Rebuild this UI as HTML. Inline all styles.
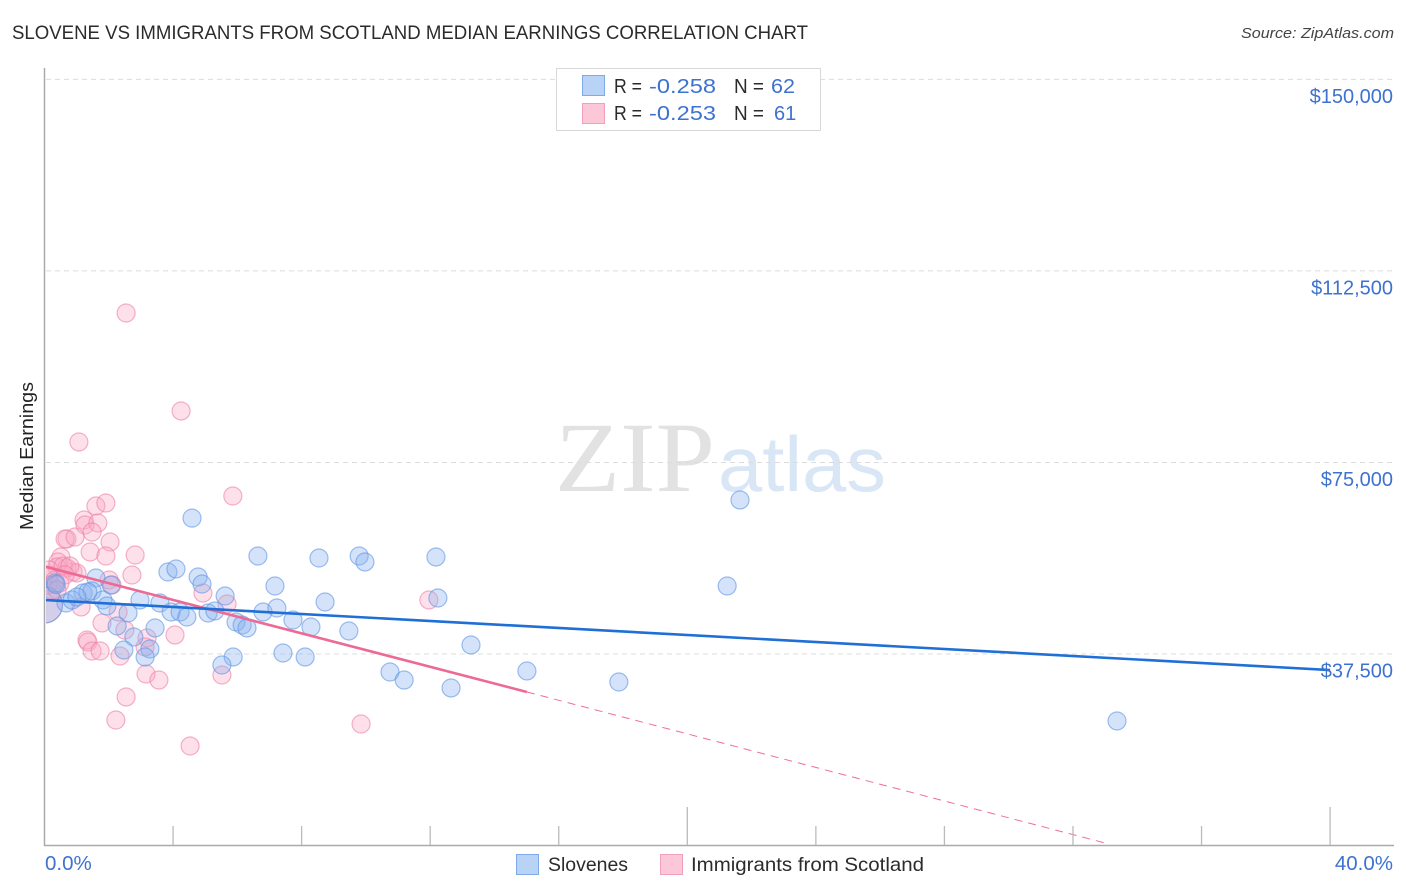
<!DOCTYPE html>
<html lang="en">
<head>
<meta charset="utf-8">
<title>Slovene vs Immigrants from Scotland Median Earnings Correlation Chart</title>
<style>
html,body{margin:0;padding:0;background:#fff;width:1406px;height:892px;overflow:hidden}
svg{display:block;font-family:"Liberation Sans",sans-serif}
</style>
</head>
<body>
<svg id="chart" xmlns="http://www.w3.org/2000/svg" width="1406" height="892" viewBox="0 0 1406 892">
  <defs><clipPath id="plot-clip"><rect x="46" y="68" width="1348" height="777"/></clipPath></defs>
  <text x="12" y="39" font-size="19" fill="#2b2b2b" textLength="796" lengthAdjust="spacingAndGlyphs">SLOVENE VS IMMIGRANTS FROM SCOTLAND MEDIAN EARNINGS CORRELATION CHART</text>
  <text x="1241" y="38" font-size="15" font-style="italic" fill="#444" textLength="153" lengthAdjust="spacingAndGlyphs">Source: ZipAtlas.com</text>
  <g>
    <text x="555" y="491" font-size="100" font-family="'Liberation Serif',serif" fill="#e2e2e2" textLength="160" lengthAdjust="spacingAndGlyphs">ZIP</text>
    <text x="718" y="491" font-size="78" fill="#d8e6f6" textLength="168" lengthAdjust="spacingAndGlyphs">atlas</text>
  </g>
  <g id="grid"></g>
  <g id="pink-points" clip-path="url(#plot-clip)"></g>
  <g id="blue-points" clip-path="url(#plot-clip)"></g>
  <g id="trends" clip-path="url(#plot-clip)"></g>
  <g id="axes"></g>
  <text transform="translate(33,456) rotate(-90)" text-anchor="middle" font-size="18" fill="#222" textLength="148" lengthAdjust="spacingAndGlyphs">Median Earnings</text>
  <g>
    <rect x="556.5" y="68.5" width="264" height="62" fill="#fff" fill-opacity="0.95" stroke="#d8d8d8"/>
    <rect x="582.5" y="75.5" width="22" height="20" fill="#b9d3f6" stroke="#7eaae8"/>
    <rect x="582.5" y="103.5" width="22" height="20" fill="#fcc8d8" stroke="#f0a0bc"/>
    <g font-size="20">
      <text x="614" y="93" fill="#2b2b2b" textLength="28" lengthAdjust="spacingAndGlyphs">R =</text>
      <text x="649" y="93" fill="#3d72d0" textLength="67" lengthAdjust="spacingAndGlyphs">-0.258</text>
      <text x="734" y="93" fill="#2b2b2b" textLength="30" lengthAdjust="spacingAndGlyphs">N =</text>
      <text x="771" y="93" fill="#3d72d0" textLength="24" lengthAdjust="spacingAndGlyphs">62</text>
      <text x="614" y="120" fill="#2b2b2b" textLength="28" lengthAdjust="spacingAndGlyphs">R =</text>
      <text x="649" y="120" fill="#3d72d0" textLength="67" lengthAdjust="spacingAndGlyphs">-0.253</text>
      <text x="734" y="120" fill="#2b2b2b" textLength="30" lengthAdjust="spacingAndGlyphs">N =</text>
      <text x="774" y="120" fill="#3d72d0">61</text>
    </g>
  </g>
  <g>
    <rect x="516.5" y="854.5" width="22" height="20" fill="#b9d3f6" stroke="#7eaae8"/>
    <text x="548" y="871" font-size="19.5" fill="#2b2b2b" textLength="80" lengthAdjust="spacingAndGlyphs">Slovenes</text>
    <rect x="660.5" y="854.5" width="22" height="20" fill="#fcc8d8" stroke="#f0a0bc"/>
    <text x="691" y="871" font-size="19.5" fill="#2b2b2b" textLength="233" lengthAdjust="spacingAndGlyphs">Immigrants from Scotland</text>
  </g>
</svg>
<script>
const yTickValues = [150000, 112500, 75000, 37500];
const yTickLabels = ["$150,000", "$112,500", "$75,000", "$37,500"];
const xTickValues = [0, 4, 8, 12, 16, 20, 24, 28, 32, 36, 40];
const xEdgeLabels = ["0.0%", "40.0%"];

const sloveneX = [4.59,6.64,3.84,4.09,4.78,4.90,5.62,7.17,1.60,1.20,1.48,1.35,0.67,0.86,1.01,1.82,1.94,2.60,2.97,3.59,3.94,4.22,4.43,5.09,5.30,5.96,6.15,6.30,6.80,7.23,3.44,2.26,2.78,3.28,3.13,2.47,5.87,5.52,7.42,7.73,8.11,8.29,8.54,8.73,9.47,9.79,9.97,10.75,11.19,12.18,12.24,12.65,13.27,15.01,17.87,21.24,21.64,33.37,2.07,0.33,0.36];
const sloveneY = [64100,56680,53550,54140,52570,51200,48850,50810,52380,49440,49830,49640,47480,48070,48660,48070,46890,45520,48070,47480,45720,45720,44740,45520,45920,43760,43170,42590,45720,46500,42590,42980,40820,38470,36910,38280,36910,35340,37690,44150,36910,42780,56290,47680,42000,56680,55510,33970,32400,56490,48460,30840,39260,34170,32010,50810,67650,24380,51010,51400,51100];
const sloveneLargeSampleX = [0];
const sloveneLargeSampleY = [47090];

const scotlandX = [5.86,1.60,1.91,1.23,1.26,1.66,1.48,0.70,0.64,0.95,2.04,1.42,1.91,2.82,2.72,0.51,0.42,0.39,0.70,0.89,1.01,2.01,2.10,1.14,1.79,2.29,2.50,1.32,1.35,1.48,1.73,2.35,3.19,3.13,4.06,4.93,5.68,3.16,3.56,5.52,2.54,4.25,1.07,2.22,2.54,4.53,9.85,11.96,0.17,0.14,0.23,0.11,0.33,0.48,0.39,0.58,0.79,0.64];
const scotlandY = [68430,66470,67060,63730,62750,63150,61380,60010,60010,60400,59430,57470,56680,56880,52960,56490,55510,54530,54330,53550,53360,51990,51010,46700,43570,45720,42190,40240,39850,38080,38080,37100,40630,38870,41220,49440,47290,33580,32400,33380,104260,85080,79010,24570,29080,19480,23790,48070,52960,53940,50030,51000,51990,51400,50030,54730,54730,52960];
const scotlandLargeSampleX = [0];
const scotlandLargeSampleY = [47090];

const sloveneTrendX = [0, 40];
const sloveneTrendY = [48070, 34360];
const scotlandTrendX = [0, 15.01];
const scotlandTrendY = [54630, 30060];
const scotlandProjectionX = [15.01, 33.0];
const scotlandProjectionY = [30060, 490];

const NS = "http://www.w3.org/2000/svg";
function xAxis(v) { return 44.5 + v * 32.14; }
function yAxis(v) { return 845.5 - v / 195.8; }
function make(tag, attrs, parent) {
  const el = document.createElementNS(NS, tag);
  for (const k in attrs) el.setAttribute(k, attrs[k]);
  parent.appendChild(el);
  return el;
}

const grid = document.getElementById("grid");
const axes = document.getElementById("axes");
yTickValues.forEach(function (v, i) {
  const line = make("line", { x1: 46, x2: 1394, y1: yAxis(v), y2: yAxis(v), stroke: "#dcdcdc", "stroke-dasharray": "5 4" }, grid);
  
  
  const label = make("text", { x: 1393, y: yAxis(v) + 23.5, "text-anchor": "end", "font-size": 20, fill: "#3d72d0" }, axes);
  label.textContent = yTickLabels[i];
  
  
});

const yLine = make("line", { x1: 44.5, x2: 44.5, y1: 68, y2: 846, stroke: "#aaaaaa", "stroke-width": 1.5 }, axes);


const xLine = make("line", { x1: 44, x2: 1394, y1: 845.5, y2: 845.5, stroke: "#aaaaaa", "stroke-width": 1.5 }, axes);


xTickValues.forEach(function (v) {
  if (v === 0) return;
  const tall = v === 20 || v === 40;
  const tick = make("line", { x1: xAxis(v), x2: xAxis(v), y1: tall ? 807 : 826, y2: 845, stroke: "#bbbbbb", "stroke-width": 1.3 }, axes);
  
  
});
const xLabelLeft = make("text", { x: 45, y: 870, "font-size": 20.5, fill: "#3d72d0" }, axes);
xLabelLeft.textContent = xEdgeLabels[0];


const xLabelRight = make("text", { x: 1393, y: 870, "text-anchor": "end", "font-size": 20.5, fill: "#3d72d0" }, axes);
xLabelRight.textContent = xEdgeLabels[1];



function drawPoints(parent, xs, ys, radius, fill, stroke, name) {
  xs.forEach(function (v, i) {
    const c = make("circle", { cx: xAxis(v), cy: yAxis(ys[i]), r: radius, fill: fill, "fill-opacity": 0.36, stroke: stroke, "stroke-opacity": 0.6, "stroke-width": 1.2 }, parent);
    
    
  });
}
const pinkGroup = document.getElementById("pink-points");
const blueGroup = document.getElementById("blue-points");
drawPoints(pinkGroup, scotlandLargeSampleX, scotlandLargeSampleY, 18, "#f9a8c4", "#ee7fa6", "scotland-large-point");
drawPoints(pinkGroup, scotlandX, scotlandY, 9, "#f9a8c4", "#ee7fa6", "scotland-point");
drawPoints(blueGroup, sloveneLargeSampleX, sloveneLargeSampleY, 18, "#88b2ef", "#5f95e4", "slovene-large-point");
drawPoints(blueGroup, sloveneX, sloveneY, 9, "#88b2ef", "#5f95e4", "slovene-point");

function drawTrend(xs, ys, stroke, width, dash, name) {
  const attrs = { x1: xAxis(xs[0]), y1: yAxis(ys[0]), x2: xAxis(xs[1]), y2: yAxis(ys[1]), stroke: stroke, "stroke-width": width };
  if (dash) attrs["stroke-dasharray"] = dash;
  const line = make("line", attrs, document.getElementById("trends"));
  
  
}
drawTrend(scotlandProjectionX, scotlandProjectionY, "#ee6f98", 1, "8 6", "scotland-trend-projection");
drawTrend(scotlandTrendX, scotlandTrendY, "#ec6a94", 2.6, null, "scotland-trend-line");
drawTrend(sloveneTrendX, sloveneTrendY, "#1f6fd6", 2.6, null, "slovene-trend-line");
</script>
</body>
</html>
